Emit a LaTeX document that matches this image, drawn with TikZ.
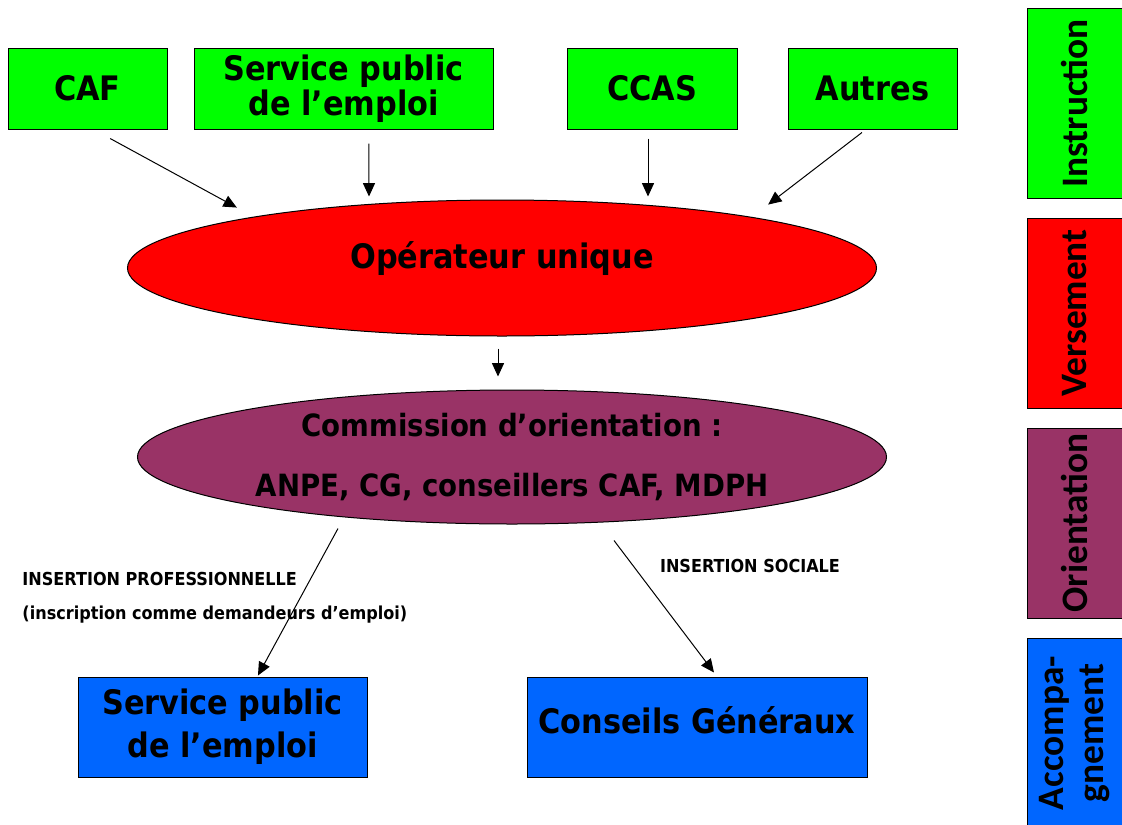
\documentclass[tikz,border=0pt]{standalone}
\usepackage{fontspec}
\setmainfont{DejaVu Sans Condensed}
\newfontfamily\sidefont{Carlito}
\usepackage{xcolor}
\usetikzlibrary{shapes.geometric, arrows.meta}
\definecolor{srcgreen}{RGB}{0,255,0}
\definecolor{opred}{RGB}{255,0,0}
\definecolor{compurple}{RGB}{153,51,102}
\definecolor{accblue}{RGB}{0,102,255}
\tikzstyle{every node}=[font=\bfseries]
\tikzstyle{srcbox} = [rectangle, draw, fill=srcgreen, minimum height=60.75pt, inner sep=0pt, align=center, font=\bfseries\fontsize{25.3}{26.5}\selectfont]
\tikzstyle{stage} = [ellipse, draw, inner sep=0pt, minimum width=561.75pt, align=center, font=\bfseries\fontsize{23}{45}\selectfont]
\tikzstyle{target} = [rectangle, draw, fill=accblue, minimum height=75pt, inner sep=0pt, align=center, font=\bfseries\fontsize{25.3}{32}\selectfont]
\tikzstyle{phase} = [rectangle, draw, rotate=90, minimum width=142.5pt, minimum height=72pt, inner sep=0pt, align=center, font=\sidefont\bfseries\fontsize{28}{30}\selectfont]
\tikzstyle{tag} = [inner sep=0pt, align=left, font=\bfseries\fontsize{13.4}{25.5}\selectfont]
\tikzstyle{line} = [draw, line width=0.75pt, -{Triangle[length=10pt,width=9pt]}]

\begin{document}
\begin{tikzpicture}[x=0.75pt, y=-0.75pt, line width=0.75pt]
    \useasboundingbox (0,0) rectangle (1122,825);
    % Place nodes
    \node [srcbox, minimum width=119.25pt] (caf) at (87.5,88.5) {CAF};
    \node [srcbox, minimum width=224.25pt] (spe) at (343.5,88.5) {Service public\\de l'emploi};
    \node [srcbox, minimum width=127.5pt] (ccas) at (652,88.5) {CCAS};
    \node [srcbox, minimum width=126.75pt] (autres) at (872.5,88.5) {Autres};
    \node [stage, fill=opred, minimum height=102pt, text depth=20pt, font=\bfseries\fontsize{25.3}{30}\selectfont] (ope) at (502,268) {Opérateur unique};
    \node [stage, fill=compurple, minimum height=100.5pt] (com) at (512,457) {Commission d'orientation :\\ANPE, CG, conseillers CAF, MDPH};
    \node [target, minimum width=216.75pt] (spe2) at (222.5,727) {Service public\\de l'emploi};
    \node [target, minimum width=255pt, text depth=10.5pt] (cg) at (697,727) {Conseils Généraux};
    \node [tag, anchor=west] (pro) at (22,598) {INSERTION PROFESSIONNELLE\\(inscription comme demandeurs d'emploi)};
    \node [tag] (soc) at (750,566) {INSERTION SOCIALE};
    % Phases column
    \node [phase, fill=srcgreen] (instr) at (1075,103.5) {Instruction};
    \node [phase, fill=opred] (vers) at (1075,313) {Versement};
    \node [phase, fill=compurple] (orient) at (1075,523) {Orientation};
    \node [phase, fill=accblue] (accomp) at (1075,733) {Accompa-\\gnement};
    % Draw edges
    \path [line] ([xshift=17pt,yshift=-6.75pt]caf.south) -- ([yshift=9pt]ope.north west);
    \path [line] ([xshift=19.1pt,yshift=-10.5pt]spe.south) -- ([xshift=-99.75pt,yshift=2.25pt]ope.north);
    \path [line] ([xshift=-3pt,yshift=-6.75pt]ccas.south) -- ([xshift=109.5pt,yshift=2.25pt]ope.north);
    \path [line] ([xshift=-7.9pt,yshift=-2.25pt]autres.south) -- ([xshift=0.75pt,yshift=11.25pt]ope.north east);
    \path [line] ([xshift=-3pt,yshift=-9pt]ope.south) -- ([xshift=-10.5pt,yshift=9.75pt]com.north);
    \path [line] ([xshift=-130.5pt,yshift=-3pt]com.south) -- ([xshift=26.6pt,yshift=0.75pt]spe2.north);
    \path [line] ([xshift=76.5pt,yshift=-12pt]com.south) -- ([xshift=12.75pt,yshift=3pt]cg.north);
\end{tikzpicture}
\end{document}
